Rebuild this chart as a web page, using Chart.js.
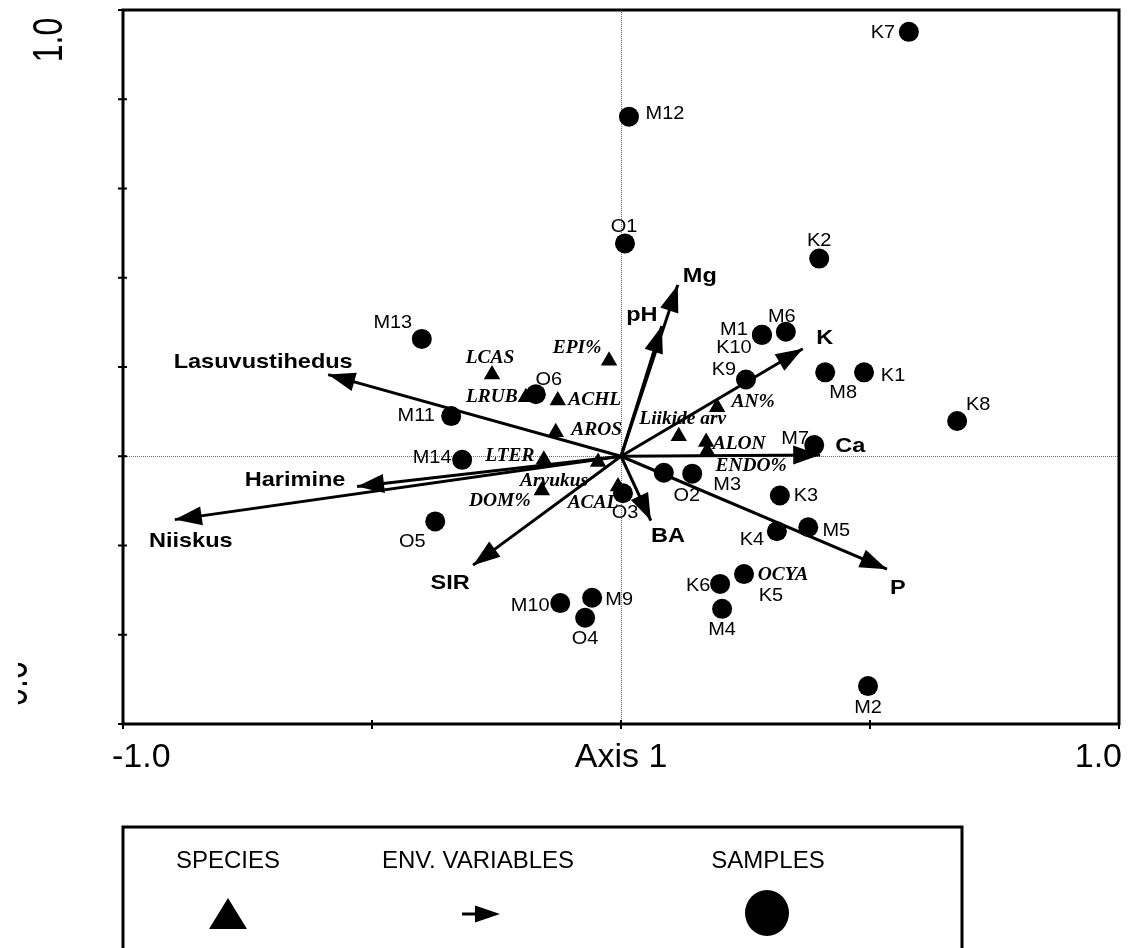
<!DOCTYPE html>
<html>
<head>
<meta charset="utf-8">
<script src="https://cdn.jsdelivr.net/npm/chart.js@4.4.1/dist/chart.umd.min.js"></script>
<style>
  html, body { margin: 0; padding: 0; background: #ffffff; overflow: hidden; }
  #wrap { width: 1130px; height: 948px; position: relative; }
</style>
</head>
<body>
<div id="wrap"><canvas id="c" width="1130" height="948"></canvas></div>
<script>
// ---- Ordination scores (CCA biplot, axis 1 vs axis 2) ----
const sampleNames = ['K7','M12','O1','K2','M13','M1','K10','M6','K9','M8','K1','K8','O6','M11','M14','M7','O2','M3','O3','K3','O5','K4','M5','K5','K6','M4','M10','M9','O4','M2'];
const sampleX = [0.578, 0.016, 0.008, 0.398, -0.400, 0.283, 0.283, 0.331, 0.251, 0.410, 0.488, 0.675, -0.171, -0.341, -0.319, 0.388, 0.086, 0.143, 0.004, 0.319, -0.373, 0.313, 0.376, 0.247, 0.199, 0.203, -0.122, -0.058, -0.072, 0.496];
const sampleY = [0.951, 0.761, 0.477, 0.443, 0.263, 0.272, 0.272, 0.279, 0.172, 0.188, 0.188, 0.079, 0.139, 0.090, -0.008, 0.025, -0.037, -0.039, -0.083, -0.088, -0.146, -0.168, -0.159, -0.264, -0.286, -0.342, -0.329, -0.317, -0.362, -0.515];

const speciesNames = ['EPI%','LCAS','LRUB','ACHL','AROS','LTER','Arvukus','DOM%','ACAL','AN%','Liikide arv','ALON','ENDO%','OCYA'];
const speciesX = [-0.024, -0.259, -0.191, -0.127, -0.131, -0.155, -0.046, -0.159, -0.006, 0.193, 0.116, 0.171, 0.173, 0.247];
const speciesY = [0.214, 0.183, 0.132, 0.125, 0.054, -0.008, -0.013, -0.077, -0.068, 0.110, 0.045, 0.032, 0.012, -0.268];

const envNames = ['Lasuvustihedus','Harimine','Niiskus','SIR','BA','P','Ca','K','Mg','pH'];
const envX = [-0.588, -0.530, -0.896, -0.297, 0.060, 0.534, 0.400, 0.365, 0.114, 0.082];
const envY = [0.183, -0.068, -0.142, -0.244, -0.144, -0.253, 0.003, 0.241, 0.384, 0.292];

const xTicks = [-1.0, -0.5, 0.0, 0.5, 1.0];
const yTicks = [-0.6, -0.4, -0.2, 0.0, 0.2, 0.4, 0.6, 0.8, 1.0];
const xTickLabels = [{ v: -1.0, text: '-1.0' }, { v: 0.0, text: 'Axis 1' }, { v: 1.0, text: '1.0' }];
const yTickLabels = [{ v: 1.0, text: '1.0' }, { v: -0.6, text: '-0.6' }];
const legendItems = ['SPECIES', 'ENV. VARIABLES', 'SAMPLES'];

// ---- Label placement (pixel offsets of each label centre from its mark) ----
const sampleLabelOffsets = [[-26,-1],[36,-4],[-1,-18],[0,-19],[-29,-18],[-28,-7],[-28,11],[-4,-17],[-22,-11],[18,19],[29,2],[21,-18],[13,-16],[-35,-2],[-30,-4],[-19,-8],[23,21],[35,10],[2,18],[26,-1],[-23,19],[-25,7],[28,2],[27,20],[-22,0],[0,19],[-30,1],[27,0],[0,19],[0,20]];
const speciesLabelOffsets = [[-32,-14],[-2,-18],[-34,-2],[37,-2],[41,-4],[-34,-5],[-44,17],[-42,9],[-25,15],[36,-7],[4,-19],[33,1],[44,14],[39,-2]];
const envLabelOffsets = [[-65,-14],[-62,-8],[16,20],[-23,16],[17,14],[11,17],[30,-10],[22,-12],[22,-10],[-20,-13]];

const FONT_SANS = '"Liberation Sans", Arial, Helvetica, sans-serif';
const FONT_SERIF = '"Liberation Serif", "Times New Roman", serif';

// text centred on (cx, cy) using cap height, with optional horizontal stretch
function drawLabel(ctx, str, cx, cy, size, weight, family, sx, align) {
  ctx.save();
  ctx.font = weight + ' ' + size + 'px ' + family;
  ctx.textAlign = align || 'center';
  ctx.textBaseline = 'alphabetic';
  ctx.translate(cx, cy + size * 0.36);
  ctx.scale(sx, 1);
  ctx.fillStyle = '#000';
  ctx.fillText(str, 0, 0);
  ctx.restore();
}

function arrowHead(ctx, x0, y0, x1, y1, len, half) {
  const dx = x1 - x0, dy = y1 - y0;
  const d = Math.hypot(dx, dy);
  const ux = dx / d, uy = dy / d;
  const bx = x1 - ux * len, by = y1 - uy * len;
  ctx.beginPath();
  ctx.moveTo(x1, y1);
  ctx.lineTo(bx - uy * half, by + ux * half);
  ctx.lineTo(bx + uy * half, by - ux * half);
  ctx.closePath();
  ctx.fill();
}

const biplotDecor = {
  id: 'biplotDecor',
  beforeDatasetsDraw(chart) {
    const ctx = chart.ctx;
    const xs = chart.scales.x, ys = chart.scales.y;
    const a = chart.chartArea;
    const x0 = xs.getPixelForValue(0), y0 = ys.getPixelForValue(0);

    // dotted zero lines
    ctx.save();
    ctx.strokeStyle = '#666';
    ctx.lineWidth = 1;
    ctx.setLineDash([1, 1]);
    ctx.beginPath();
    ctx.moveTo(Math.round(x0) + 0.5, a.top);
    ctx.lineTo(Math.round(x0) + 0.5, a.bottom);
    ctx.moveTo(a.left, Math.round(y0) + 0.5);
    ctx.lineTo(a.right, Math.round(y0) + 0.5);
    ctx.stroke();
    ctx.restore();

    // species labels
    speciesNames.forEach((n, i) => {
      const px = xs.getPixelForValue(speciesX[i]) + speciesLabelOffsets[i][0];
      const py = ys.getPixelForValue(speciesY[i]) + speciesLabelOffsets[i][1];
      drawLabel(ctx, n, px, py, 18, 'italic bold', FONT_SERIF, 1.08);
    });
    // sample labels
    sampleNames.forEach((n, i) => {
      const px = xs.getPixelForValue(sampleX[i]) + sampleLabelOffsets[i][0];
      const py = ys.getPixelForValue(sampleY[i]) + sampleLabelOffsets[i][1];
      drawLabel(ctx, n, px, py, 19, 'normal', FONT_SANS, 1.05);
    });
    // environmental variable labels
    envNames.forEach((n, i) => {
      const px = xs.getPixelForValue(envX[i]) + envLabelOffsets[i][0];
      const py = ys.getPixelForValue(envY[i]) + envLabelOffsets[i][1];
      drawLabel(ctx, n, px, py, 21, 'bold', FONT_SANS, 1.12);
    });
  },
  afterDatasetsDraw(chart) {
    const ctx = chart.ctx;
    const xs = chart.scales.x, ys = chart.scales.y;
    const a = chart.chartArea;
    const x0 = xs.getPixelForValue(0), y0 = ys.getPixelForValue(0);

    // arrow heads for the environmental vectors
    ctx.save();
    ctx.fillStyle = '#000';
    envNames.forEach((n, i) => {
      arrowHead(ctx, x0, y0, xs.getPixelForValue(envX[i]), ys.getPixelForValue(envY[i]), 27, 9.5);
    });
    ctx.restore();

    // frame and axes
    ctx.save();
    ctx.strokeStyle = '#000';
    ctx.lineWidth = 3;
    ctx.beginPath();
    ctx.rect(a.left, a.top, a.right - a.left, a.bottom - a.top);
    ctx.stroke();
    ctx.lineWidth = 2;
    ctx.beginPath();
    yTicks.forEach(v => {
      const py = ys.getPixelForValue(v);
      ctx.moveTo(a.left - 5, py);
      ctx.lineTo(a.left + 4, py);
    });
    xTicks.forEach(v => {
      const px = xs.getPixelForValue(v);
      ctx.moveTo(px, a.bottom - 4);
      ctx.lineTo(px, a.bottom + 5);
    });
    ctx.stroke();
    ctx.restore();

    // x tick labels
    xTickLabels.forEach(t => {
      const px = xs.getPixelForValue(t.v);
      const align = t.v < 0 ? 'left' : (t.v > 0 ? 'right' : 'center');
      const shift = t.v < 0 ? -11 : (t.v > 0 ? 3 : 0);
      drawLabel(ctx, t.text, px + shift, a.bottom + 31, 34, 'normal', FONT_SANS, 1.0, align);
    });

    // y tick labels (rotated, kept inside the axis range)
    ctx.save();
    ctx.beginPath();
    ctx.rect(18, 0, 100, chart.height);
    ctx.clip();
    yTickLabels.forEach(t => {
      const py = ys.getPixelForValue(t.v);
      const top = t.v > 0;
      ctx.save();
      ctx.translate(top ? 62 : 27, top ? py + 30 : py - 35);
      ctx.rotate(-Math.PI / 2);
      ctx.scale(1, 1.33);
      ctx.font = '32px ' + FONT_SANS;
      ctx.textAlign = 'center';
      ctx.textBaseline = 'alphabetic';
      ctx.fillStyle = '#000';
      ctx.fillText(t.text, 0, 0);
      ctx.restore();
    });
    ctx.restore();

    // legend box
    const lx = 123, ly = 827, lr = 962;
    ctx.save();
    ctx.strokeStyle = '#000';
    ctx.lineWidth = 3;
    ctx.beginPath();
    ctx.moveTo(lx, chart.height + 5);
    ctx.lineTo(lx, ly);
    ctx.lineTo(lr, ly);
    ctx.lineTo(lr, chart.height + 5);
    ctx.stroke();
    ctx.restore();

    const legendCentres = [228, 478, 768];
    legendItems.forEach((t, i) => {
      drawLabel(ctx, t, legendCentres[i], 859, 24, 'normal', FONT_SANS, 1.0);
    });
    ctx.save();
    ctx.fillStyle = '#000';
    // triangle symbol
    ctx.beginPath();
    ctx.moveTo(228, 898);
    ctx.lineTo(247, 929);
    ctx.lineTo(209, 929);
    ctx.closePath();
    ctx.fill();
    // arrow symbol
    ctx.strokeStyle = '#000';
    ctx.lineWidth = 3;
    ctx.beginPath();
    ctx.moveTo(462, 914);
    ctx.lineTo(480, 914);
    ctx.stroke();
    arrowHead(ctx, 462, 914, 500, 914, 25, 8.5);
    // circle symbol
    ctx.beginPath();
    ctx.ellipse(767, 913, 22, 23, 0, 0, Math.PI * 2);
    ctx.fill();
    ctx.restore();
  }
};

const envDatasets = envNames.map((n, i) => ({
  type: 'line',
  label: n,
  data: [{ x: 0, y: 0 }, { x: envX[i], y: envY[i] }],
  borderColor: '#000',
  borderWidth: 3,
  pointRadius: 0,
  fill: false,
  order: 3
}));

new Chart(document.getElementById('c'), {
  type: 'scatter',
  data: {
    datasets: [
      {
        label: 'Samples',
        data: sampleX.map((x, i) => ({ x: x, y: sampleY[i] })),
        pointStyle: 'circle',
        pointRadius: 10,
        backgroundColor: '#000',
        borderColor: '#000',
        borderWidth: 0,
        order: 1
      },
      {
        label: 'Species',
        data: speciesX.map((x, i) => ({ x: x, y: speciesY[i] })),
        pointStyle: 'triangle',
        pointRadius: 9.5,
        backgroundColor: '#000',
        borderColor: '#000',
        borderWidth: 0,
        order: 2
      },
      ...envDatasets
    ]
  },
  options: {
    responsive: false,
    animation: false,
    devicePixelRatio: 1,
    events: [],
    layout: { padding: { left: 123, right: 11, top: 5, bottom: 224 } },
    plugins: { legend: { display: false }, tooltip: { enabled: false } },
    scales: {
      x: { type: 'linear', min: -1, max: 1, display: false },
      y: { type: 'linear', min: -0.6, max: 1.0, display: false }
    }
  },
  plugins: [biplotDecor]
});
</script>
</body>
</html>
